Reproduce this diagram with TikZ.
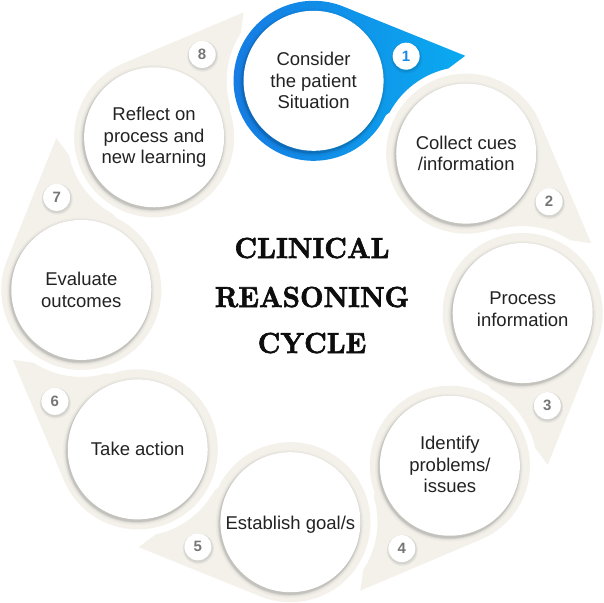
\documentclass[tikz,border=0pt]{standalone}
\usepackage{fontspec}
\setsansfont{Liberation Sans}
\newfontfamily\titlefont{lmroman10-bold.otf}[FakeBold=2.2]
\usetikzlibrary{calc}
\definecolor{beige}{RGB}{243,241,234}
\definecolor{blueL}{RGB}{22,122,226}
\definecolor{blueR}{RGB}{10,170,240}
\definecolor{txt}{RGB}{34,34,34}
\definecolor{numgray}{RGB}{118,118,118}
\definecolor{numblue}{RGB}{22,140,232}
\tikzset{
  steptext/.style={font=\sffamily\fontsize{18.5}{21.5}\selectfont, text=txt, align=center, inner sep=0pt},
  badge/.style={circle, fill=white, minimum size=27pt, inner sep=0pt, font=\sffamily\bfseries\fontsize{15}{15}\selectfont, text=numgray},
  titletext/.style={font=\titlefont\fontsize{29}{29}\selectfont, text=black!95, anchor=base, xscale=0.94, inner sep=0pt},
}
\begin{document}
\begin{tikzpicture}[x=1pt,y=1pt]
\useasboundingbox (-302,-300.5) rectangle (302,301.5);
\fill[white] (-302,-300.5) rectangle (302,301.5);
% teardrop shapes
\foreach \k in {1,...,8} {
  \pgfmathsetmacro{\tha}{87-45*(\k-1)}
  \pgfmathsetmacro{\thn}{\tha-45}
  \pgfmathsetmacro{\aU}{\tha-18.9}
  \pgfmathsetmacro{\aQ}{\tha-112.5}
  \pgfmathsetmacro{\aE}{\tha-378.9}
  \pgfmathsetmacro{\aT}{\tha-30.6}
  \coordinate (C\k) at (\tha:221);
  \coordinate (T\k) at (\aT:295);
  \coordinate (U\k) at ($(C\k)+(\aU:80)$);
  \coordinate (Q\k) at ($(C\k)+(\aQ:80)$);
  \begin{scope}[even odd rule]
    \clip (-400,-400) -- (-400,400) -- (400,400) -- (400,-400) -- cycle (\thn:221) circle[radius=87];
    \ifnum\k=1
      \path[left color=blueL, right color=blueR] (U\k) -- (T\k) -- (Q\k) arc[start angle=\aQ, end angle=\aE, radius=80] -- cycle;
    \else
      \path[fill=beige] (U\k) -- (T\k) -- (Q\k) arc[start angle=\aQ, end angle=\aE, radius=80] -- cycle;
    \fi
  \end{scope}
}
% inner white discs and texts
\foreach \k/\dy/\steplabel in {1/0/{Consider\\the patient\\Situation},2/0/{Collect cues\\/information},3/4/{Process\\information},4/1/{Identify\\problems/\\issues},5/-3/{Establish goal/s},6/0/{Take action},7/0/{Evaluate\\outcomes},8/0/{Reflect on\\process and\\new learning}} {
  \foreach \rr/\oo in {74/0.025,72.5/0.04,71.5/0.06,70.8/0.08} {
    \fill[black, opacity=\oo] ($(C\k)+(-0.8,-1.8)$) circle[radius=\rr];
  }
  \fill[white] (C\k) circle[radius=70];
  \node[steptext] (S\k) at ($(C\k)+(0,\dy)$) {\steplabel};
}
% number badges
\foreach \k in {1,...,8} {
  \pgfmathsetmacro{\tha}{87-45*(\k-1)-20}
  \fill[black, opacity=0.05] ($(\tha:266.5)+(0.5,-1.8)$) circle[radius=15.5];
  \fill[black, opacity=0.07] ($(\tha:266.5)+(0.3,-1.2)$) circle[radius=14.5];
}
\node[badge, text=numblue] (B1) at (67:266.5) {1};
\node[badge] (B2) at (22:266.5) {2};
\node[badge] (B3) at (-23:266.5) {3};
\node[badge] (B4) at (-68:266.5) {4};
\node[badge] (B5) at (-113:266.5) {5};
\node[badge] (B6) at (-158:266.5) {6};
\node[badge] (B7) at (157:266.5) {7};
\node[badge] (B8) at (112:266.5) {8};
% title
\node[titletext] (t1) at (10,43.5) {CLINICAL};
\node[titletext] (t2) at (10,-5.5) {REASONING};
\node[titletext] (t3) at (10,-51.5) {CYCLE};
\end{tikzpicture}
\end{document}
